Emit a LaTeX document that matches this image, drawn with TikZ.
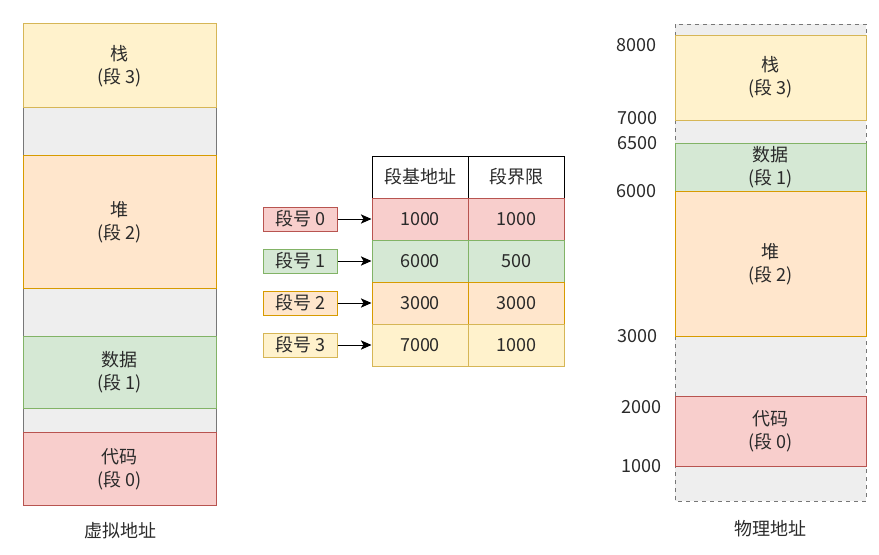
\documentclass[tikz,border=0pt]{standalone}
\usepackage{fontspec}
\setmainfont{Noto Sans CJK SC}
\usetikzlibrary{arrows.meta}
\definecolor{txtgray}{HTML}{2A2A2A}
\definecolor{yelf}{HTML}{FFF2CC}\definecolor{yels}{HTML}{D6B656}
\definecolor{orgf}{HTML}{FFE6CC}\definecolor{orgs}{HTML}{D79B00}
\definecolor{grnf}{HTML}{D5E8D4}\definecolor{grns}{HTML}{82B366}
\definecolor{redf}{HTML}{F8CECC}\definecolor{reds}{HTML}{B85450}
\definecolor{gapf}{HTML}{EEEEEE}\definecolor{gaps}{HTML}{777777}
\begin{document}
\begin{tikzpicture}[x=0.75pt, y=-0.75pt, line width=0.75pt,
    font=\fontsize{13.5}{17}\selectfont, text=txtgray,
    gapseg/.style={fill=gapf, draw=gaps},
    stackseg/.style={fill=yelf, draw=yels},
    heapseg/.style={fill=orgf, draw=orgs},
    dataseg/.style={fill=grnf, draw=grns},
    codeseg/.style={fill=redf, draw=reds},
    segtext/.style={align=center},
    cell/.style={minimum width=72pt, minimum height=31.5pt, inner sep=0pt},
    tag/.style={minimum width=55pt, minimum height=18pt, inner sep=0pt},
    addr/.style={anchor=east},
    arr/.style={-{Stealth[length=8pt, width=7pt, inset=2pt]}, black}]
\useasboundingbox (0,0) rectangle (879,554);
% 虚拟地址空间
\draw[gapseg] (23,107) rectangle (216,155);
\draw[gapseg] (23,288) rectangle (216,336);
\draw[gapseg] (23,408) rectangle (216,432);
\draw[stackseg] (23,23) rectangle (216,107);
\draw[heapseg] (23,155) rectangle (216,288);
\draw[dataseg] (23,336) rectangle (216,408);
\draw[codeseg] (23,432) rectangle (216,505);
\node[segtext] (vstack) at (119.5,66) {栈\\(段 3)};
\node[segtext] (vheap) at (119.5,222) {堆\\(段 2)};
\node[segtext] (vdata) at (119.5,372) {数据\\(段 1)};
\node[segtext] (vcode) at (119.5,469) {代码\\(段 0)};
\node (vlabel) at (120,531) {虚拟地址};
% 段表
\node[cell, fill=white, draw=black] (hbase) at (420,177) {段基地址};
\node[cell, fill=white, draw=black] (hlim) at (516.5,177) {段界限};
\node[cell, fill=redf, draw=reds] (b0) at (420,219) {1000};
\node[cell, fill=redf, draw=reds] (l0) at (516.5,219) {1000};
\node[cell, fill=grnf, draw=grns] (b1) at (420,261) {6000};
\node[cell, fill=grnf, draw=grns] (l1) at (516.5,261) {500};
\node[cell, fill=orgf, draw=orgs] (b2) at (420,303) {3000};
\node[cell, fill=orgf, draw=orgs] (l2) at (516.5,303) {3000};
\node[cell, fill=yelf, draw=yels] (b3) at (420,345) {7000};
\node[cell, fill=yelf, draw=yels] (l3) at (516.5,345) {1000};
% 段号
\node[tag, fill=redf, draw=reds] (t0) at (300.5,219) {段号 0};
\node[tag, fill=grnf, draw=grns] (t1) at (300.5,261) {段号 1};
\node[tag, fill=orgf, draw=orgs] (t2) at (300.5,303) {段号 2};
\node[tag, fill=yelf, draw=yels] (t3) at (300.5,345) {段号 3};
\draw[arr] (t0) -- (b0);
\draw[arr] (t1) -- (b1);
\draw[arr] (t2) -- (b2);
\draw[arr] (t3) -- (b3);
% 物理地址空间
\draw[gapseg, dashed] (675,24) rectangle (866,501);
\draw[stackseg] (675,35) rectangle (866,120);
\draw[dataseg] (675,143) rectangle (866,191);
\draw[heapseg] (675,191) rectangle (866,336);
\draw[codeseg] (675,396) rectangle (866,466);
\node[segtext] (pstack) at (770.5,77.5) {栈\\(段 3)};
\node[segtext] (pdata) at (770.5,167) {数据\\(段 1)};
\node[segtext] (pheap) at (770.5,264) {堆\\(段 2)};
\node[segtext] (pcode) at (770.5,431) {代码\\(段 0)};
\node (plabel) at (770,529) {物理地址};
% 地址刻度
\node[addr] (a8000) at (661,45) {8000};
\node[addr] (a7000) at (662,118) {7000};
\node[addr] (a6500) at (662,143) {6500};
\node[addr] (a6000) at (661,191) {6000};
\node[addr] (a3000) at (662,336) {3000};
\node[addr] (a2000) at (666,407) {2000};
\node[addr] (a1000) at (666,466) {1000};
\end{tikzpicture}
\end{document}
